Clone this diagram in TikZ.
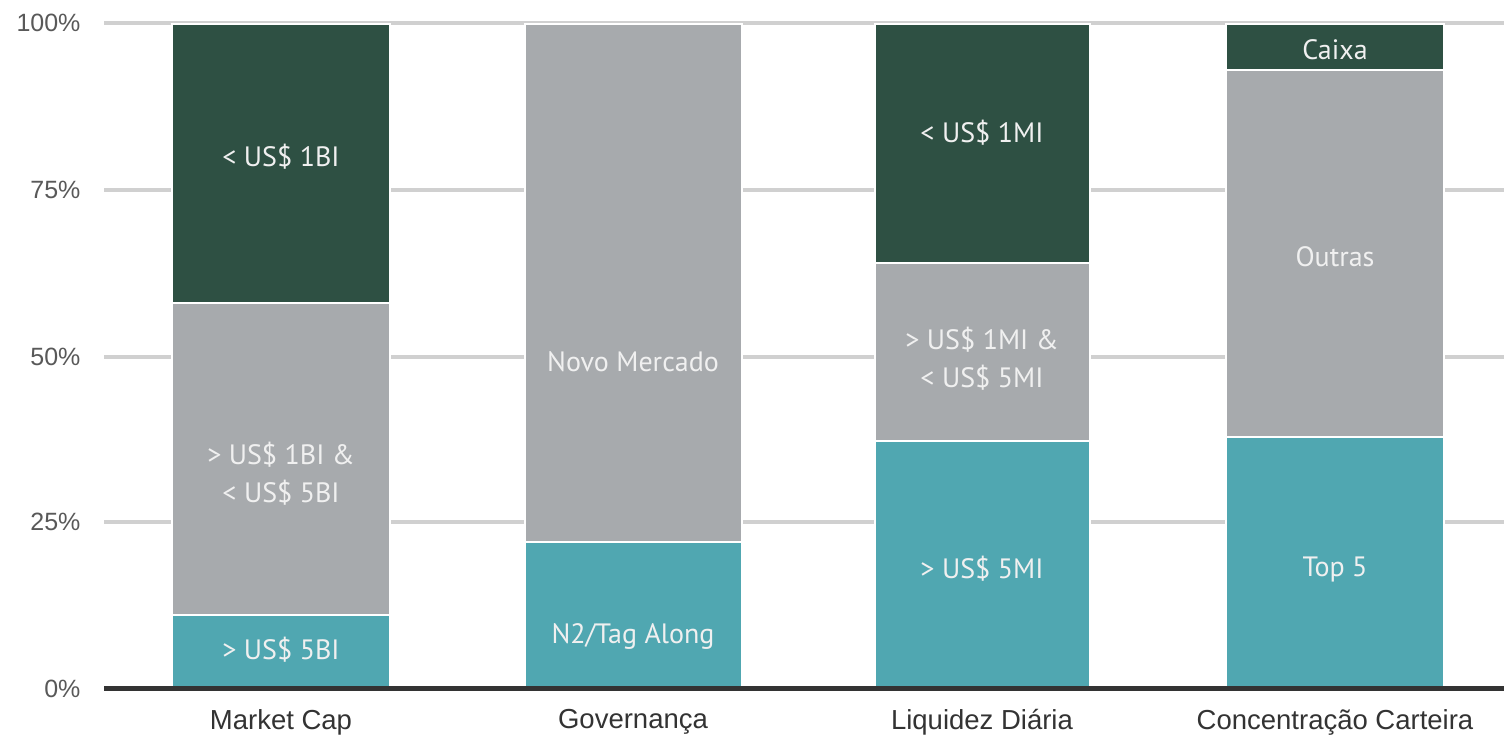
\documentclass[tikz,border=0pt]{standalone}
\usepackage{fontspec}
\setmainfont{Liberation Sans}
\newfontfamily\barfont{PT Sans}
\definecolor{darkseg}{HTML}{2E5043}
\definecolor{grayseg}{HTML}{A7AAAD}
\definecolor{tealseg}{HTML}{50A7B1}
\definecolor{gridgray}{HTML}{D0D0D0}
\definecolor{axisdark}{HTML}{333333}
\definecolor{ticktext}{HTML}{595959}
\tikzset{
  seg/.style={draw=white, line width=1.5pt},
  seglabel/.style={text=white!94!black, font=\barfont\fontsize{28}{38}\selectfont, align=center},
  ticklabel/.style={anchor=east, text=ticktext, font=\fontsize{25}{28}\selectfont},
  catlabel/.style={text=axisdark, font=\fontsize{27.5}{30}\selectfont},
}
\begin{document}
\begin{tikzpicture}[x=1pt, y=-1pt]
\useasboundingbox[fill=white] (0,0) rectangle (1504,738);
% grid
\foreach \gy/\gt in {23/100\%, 190/75\%, 357/50\%, 522/25\%} {
  \draw[gridgray, line width=4pt] (104,\gy) -- (1504,\gy);
  \node[ticklabel] at (84,\gy) {\gt};
}
\node[ticklabel] (t0) at (84,689) {0\%};
% Market Cap
\fill[seg, fill=tealseg] (172,615) rectangle (390,688);
\fill[seg, fill=grayseg] (172,303) rectangle (390,615);
\fill[seg, fill=darkseg] (172,24) rectangle (390,303);
\node[seglabel] (mc1) at (281,650) {> US\$ 5BI};
\node[seglabel] (mc2) at (281,474) {> US\$ 1BI \&\\< US\$ 5BI};
\node[seglabel] (mc3) at (281,157) {< US\$ 1BI};
% Governanca
\fill[seg, fill=tealseg] (525,542) rectangle (742,688);
\fill[seg, fill=grayseg] (525,24) rectangle (742,542);
\node[seglabel] (gov1) at (633,636) {N2/Tag Along};
\node[seglabel] (gov2) at (633,362) {Novo Mercado};
% Liquidez
\fill[seg, fill=tealseg] (875,441) rectangle (1090,688);
\fill[seg, fill=grayseg] (875,263) rectangle (1090,441);
\fill[seg, fill=darkseg] (875,24) rectangle (1090,263);
\node[seglabel] (liq1) at (982,569) {> US\$ 5MI};
\node[seglabel] (liq2) at (982,359) {> US\$ 1MI \&\\< US\$ 5MI};
\node[seglabel] (liq3) at (982,133) {< US\$ 1MI};
% Concentracao
\fill[seg, fill=tealseg] (1226,437) rectangle (1444,688);
\fill[seg, fill=grayseg] (1226,70) rectangle (1444,437);
\fill[seg, fill=darkseg] (1226,24) rectangle (1444,70);
\node[seglabel] (con1) at (1335,569) {Top 5};
\node[seglabel] (con2) at (1335,257) {Outras};
\node[seglabel] (con3) at (1335,50) {Caixa};
% axis
\draw[axisdark, line width=5pt] (104,688) -- (1504,688);
\node[catlabel] (cat1) at (281,722) {Market Cap};
\node[catlabel] (cat2) at (633,722) {Governança};
\node[catlabel] (cat3) at (982,722) {Liquidez Diária};
\node[catlabel] (cat4) at (1335,722) {Concentração Carteira};
\end{tikzpicture}
\end{document}
